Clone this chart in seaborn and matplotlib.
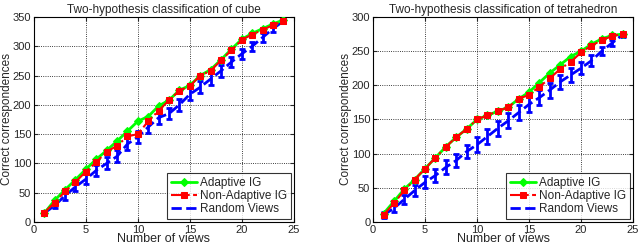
import numpy as np
import matplotlib
matplotlib.use('Agg')
import matplotlib.pyplot as plt
import seaborn as sns

# --- data ---
views = list(range(1, 25))

cube_adaptive = [15, 37, 55, 72, 90, 107, 122, 138, 155, 172, 180, 198,
                 208, 225, 233, 250, 260, 277, 295, 312, 322, 330, 338, 345]
cube_nonadaptive = [16, 33, 52, 68, 86, 102, 120, 130, 146, 150, 172, 190,
                    208, 224, 232, 250, 258, 276, 293, 311, 320, 328, 336, 343]
cube_random = [15, 28, 45, 60, 73, 88, 100, 112, 133, 145, 162, 178,
               185, 200, 218, 230, 244, 258, 273, 287, 300, 315, 330, 343]
cube_random_err = [4, 5, 7, 8, 9, 10, 10, 10, 11, 11, 11, 11,
                   10, 10, 10, 10, 10, 10, 9, 9, 8, 7, 5, 3]

tetra_adaptive = [12, 30, 48, 62, 78, 94, 110, 124, 136, 150, 156, 162,
                  168, 180, 190, 204, 218, 230, 242, 250, 260, 268, 273, 275]
tetra_nonadaptive = [10, 27, 46, 62, 78, 94, 110, 124, 136, 150, 156, 162,
                     168, 180, 186, 198, 210, 224, 234, 248, 258, 266, 272, 275]
tetra_random = [10, 20, 33, 46, 58, 68, 80, 90, 103, 113, 125, 137,
                148, 160, 172, 182, 193, 205, 215, 225, 236, 250, 262, 274]
tetra_random_err = [4, 6, 7, 8, 9, 10, 10, 10, 10, 11, 11, 11,
                    11, 11, 11, 11, 11, 10, 10, 9, 8, 6, 5, 3]

panels = [
    ("Two-hypothesis classification of cube", cube_adaptive, cube_nonadaptive,
     cube_random, cube_random_err, 350, [0, 50, 100, 150, 200, 250, 300, 350]),
    ("Two-hypothesis classification of tetrahedron", tetra_adaptive, tetra_nonadaptive,
     tetra_random, tetra_random_err, 300, [0, 50, 100, 150, 200, 250, 300]),
]

sns.set_style('ticks')
plt.rcParams['font.family'] = ['Liberation Sans', 'DejaVu Sans']

fig = plt.figure(figsize=(6.4, 2.46), dpi=100)
ax_pos = [[0.053, 0.098, 0.406, 0.833], [0.583, 0.098, 0.406, 0.833]]

for pos, (title, ada, nonada, rnd, err, ymax, yticks) in zip(ax_pos, panels):
    ax = fig.add_axes(pos)
    sns.lineplot(x=views, y=ada, ax=ax, color='#00ff00', lw=2, marker='D',
                 markersize=4, markeredgecolor='#00ff00', label='Adaptive IG', zorder=3)
    sns.lineplot(x=views, y=nonada, ax=ax, color='#ff0000', lw=1.5, ls='-.',
                 marker='s', markersize=4.5, markeredgecolor='#ff0000',
                 label='Non-Adaptive IG', zorder=4)
    sns.lineplot(x=views, y=rnd, ax=ax, color='#0000ff', lw=2, ls='--',
                 label='Random Views', zorder=2)
    ax.errorbar(views, rnd, yerr=err, fmt='none', ecolor='#0000ff',
                capsize=2, capthick=2, elinewidth=2, zorder=2)

    ax.set_xlim(0, 25)
    ax.set_ylim(0, ymax)
    ax.set_xticks([0, 5, 10, 15, 20, 25])
    ax.set_yticks(yticks)
    ax.tick_params(direction='in', labelsize=8, length=3, top=True, right=True, pad=2)
    ax.grid(True, ls=':', color='k', lw=0.6)
    for s in ax.spines.values():
        s.set_visible(True)
        s.set_color('k')
        s.set_linewidth(0.8)
    ax.set_title(title, fontsize=8.5, pad=3)
    ax.set_xlabel('Number of views', fontsize=9, labelpad=-1)
    ax.set_ylabel('Correct correspondences', fontsize=8.5, labelpad=0)
    leg = ax.legend(loc='lower right', fontsize=8.5, frameon=True, fancybox=False,
                    borderpad=0.3, labelspacing=0.1, handlelength=2.2,
                    handletextpad=0.3, borderaxespad=0.25)
    leg.get_frame().set_edgecolor('k')
    leg.get_frame().set_linewidth(0.8)

fig.savefig('out.png', dpi=100)
